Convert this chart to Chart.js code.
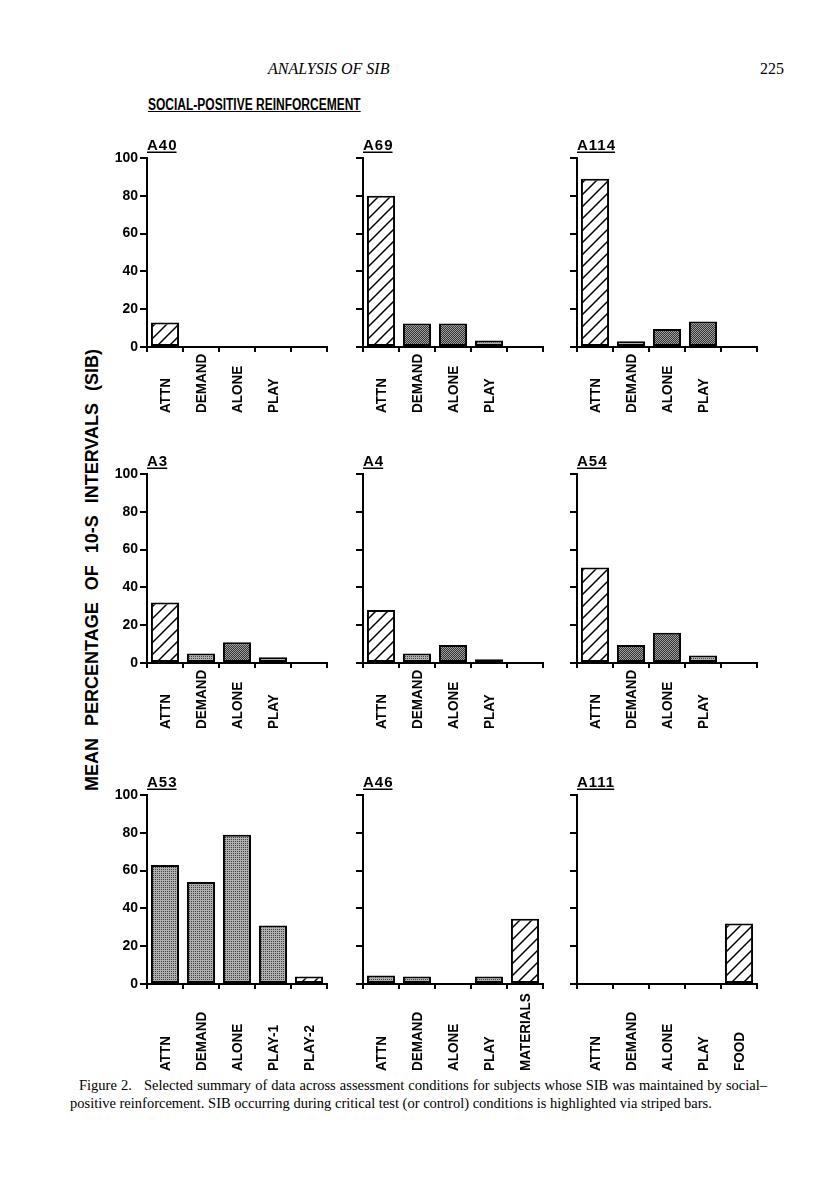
<!DOCTYPE html>
<html><head><meta charset="utf-8">
<script src="https://cdn.jsdelivr.net/npm/chart.js@4.4.1/dist/chart.umd.min.js"></script>
<style>
html,body{margin:0;padding:0;background:#fff;}
body{width:816px;height:1195px;position:relative;overflow:hidden;font-family:"Liberation Sans",Arial,sans-serif;color:#000;}
.abs{position:absolute;white-space:nowrap;}
#runhead{left:268px;top:61px;font:italic 16px/1 "Liberation Serif",serif;}
#pageno{left:760px;top:61px;font:16px/1 "Liberation Serif",serif;}
#heading{left:148px;top:97px;font:bold 16px/1 "Liberation Sans",Arial,sans-serif;text-decoration:underline;transform:scaleX(0.75);transform-origin:0 0;}
#ytitle{left:91.5px;top:570px;font:bold 18px/1 "Liberation Sans",Arial,sans-serif;letter-spacing:0px;word-spacing:7px;transform:translate(-50%,-50%) rotate(-90deg);}
#cap1{left:70px;top:1076px;width:697px;font:14.5px/1.3 "Liberation Serif",serif;text-align:justify;text-align-last:justify;text-indent:9px;white-space:normal;}
#cap2{left:70px;top:1094px;font:14.5px/1.3 "Liberation Serif",serif;}
canvas{position:absolute;}
</style>
</head><body>
<div class="abs" id="runhead">ANALYSIS OF SIB</div>
<div class="abs" id="pageno">225</div>
<div class="abs" id="heading">SOCIAL-POSITIVE REINFORCEMENT</div>
<div class="abs" id="ytitle">MEAN PERCENTAGE OF 10-S INTERVALS (SIB)</div>
<div class="abs" id="cap1">Figure 2.&nbsp;&nbsp; Selected summary of data across assessment conditions for subjects whose SIB was maintained by social–</div>
<div class="abs" id="cap2">positive reinforcement. SIB occurring during critical test (or control) conditions is highlighted via striped bars.</div>
<script>
// ---------- DATA ----------
const panelNames = ['A40','A69','A114','A3','A4','A54','A53','A46','A111'];
const catsStd  = ['ATTN','DEMAND','ALONE','PLAY',''];
const catsA53  = ['ATTN','DEMAND','ALONE','PLAY-1','PLAY-2'];
const catsA46  = ['ATTN','DEMAND','ALONE','PLAY','MATERIALS'];
const catsA111 = ['ATTN','DEMAND','ALONE','PLAY','FOOD'];
const valsA40  = [13, 0, 0, 0];
const valsA69  = [80, 12.5, 12.5, 3.5];
const valsA114 = [89, 3, 9.5, 13.5];
const valsA3   = [32, 5, 11, 3];
const valsA4   = [28, 5, 9.5, 2];
const valsA54  = [50.5, 9.5, 16, 4];
const valsA53  = [63, 54, 79, 31, 4];
const valsA46  = [4.5, 4, 0, 4, 34.5];
const valsA111 = [0, 0, 0, 0, 32];
// index of the critical test (or control) condition, drawn striped
const criticalIdx = [0, 0, 0, 0, 0, 0, 4, 4, 4];
const yTickValues = [0, 20, 40, 60, 80, 100];

const panelCats = [catsStd, catsStd, catsStd, catsStd, catsStd, catsStd, catsA53, catsA46, catsA111];
const panelVals = [valsA40, valsA69, valsA114, valsA3, valsA4, valsA54, valsA53, valsA46, valsA111];

// ---------- STYLE ----------
const darkBars = [[], [1,2], [2,3], [2], [2], [1,2], [], [], []];
const colX = [147, 363, 577];
const rowTop = [158, 474, 795];
const plotH = 189, plotW = 180, padTop = 30, yAxisW = 60, xAxisH = 100, padRight = 12;
const labelBottom = [66, 66, 87];

function makeHatch(){
  const c = document.createElement('canvas'); const s = 12; c.width = c.height = s;
  const g = c.getContext('2d');
  g.fillStyle = '#fff'; g.fillRect(0,0,s,s);
  g.strokeStyle = '#000'; g.lineWidth = 1.5; g.beginPath();
  g.moveTo(0,s); g.lineTo(s,0);
  g.moveTo(-2,2); g.lineTo(2,-2);
  g.moveTo(s-2,s+2); g.lineTo(s+2,s-2);
  g.stroke();
  return g.createPattern(c,'repeat');
}
function makeStipple(dark, light, nDark){
  const c = document.createElement('canvas'); c.width = c.height = 2;
  const g = c.getContext('2d');
  g.fillStyle = light; g.fillRect(0,0,2,2);
  g.fillStyle = dark; g.fillRect(0,0,1,1);
  if (nDark > 1) g.fillRect(1,1,1,1);
  return g.createPattern(c,'repeat');
}
const hatch = makeHatch();
const stippleLight = makeStipple('#404040', '#b0b0b0', 1);
const stippleDark = makeStipple('#333', '#a0a0a0', 2);

const panelPlugin = {
  id: 'panel',
  afterDraw(chart, args, opts){
    const {ctx, chartArea} = chart;
    const xs = chart.scales.x;
    ctx.save();
    ctx.fillStyle = '#000';
    ctx.font = 'bold 15px "Liberation Sans", Arial, sans-serif';
    ctx.letterSpacing = '1px';
    ctx.textAlign = 'left'; ctx.textBaseline = 'alphabetic';
    ctx.fillText(opts.title, chartArea.left, chartArea.top - 8);
    const w = ctx.measureText(opts.title).width;
    ctx.fillRect(chartArea.left, chartArea.top - 6.5, w - 1, 1.5);
    ctx.letterSpacing = '0px';
    ctx.font = 'bold 15px "Liberation Sans", Arial, sans-serif';
    chart.data.labels.forEach((lab, i) => {
      if (!lab) return;
      const x = xs.getPixelForTick(i);
      ctx.save();
      ctx.translate(x, chartArea.bottom + opts.labelBottom);
      ctx.rotate(-Math.PI/2);
      ctx.scale(0.9, 1);
      ctx.textAlign = 'left'; ctx.textBaseline = 'middle';
      ctx.fillText(lab, 0, 1);
      ctx.restore();
    });
    ctx.restore();
  }
};

panelNames.forEach((name, i) => {
  const col = i % 3, row = Math.floor(i / 3);
  const cv = document.createElement('canvas');
  const W = yAxisW + plotW + padRight, H = padTop + plotH + xAxisH;
  cv.width = W; cv.height = H;
  cv.style.left = (colX[col] - yAxisW) + 'px';
  cv.style.top = (rowTop[row] - padTop) + 'px';
  cv.style.width = W + 'px'; cv.style.height = H + 'px';
  document.body.appendChild(cv);
  const vals = panelVals[i];
  const fills = vals.map((v, k) => k === criticalIdx[i] ? hatch : (darkBars[i].includes(k) ? stippleDark : stippleLight));
  new Chart(cv, {
    type: 'bar',
    data: { labels: panelCats[i], datasets: [{ data: vals, backgroundColor: fills, borderColor: '#000', borderWidth: 2, borderSkipped: false, barPercentage: 0.78, categoryPercentage: 1 }] },
    options: {
      responsive: false, animation: false, devicePixelRatio: 1,
      layout: { padding: { left: 0, top: padTop, right: padRight, bottom: 0 } },
      plugins: { legend: { display: false }, tooltip: { enabled: false }, title: { display: false },
        panel: { title: name, labelBottom: labelBottom[row] } },
      scales: {
        x: { type: 'category', offset: true,
          grid: { display: true, offset: true, drawOnChartArea: false, drawTicks: true, tickLength: 5, color: '#000', lineWidth: 2 },
          border: { display: true, color: '#000', width: 2 },
          ticks: { display: false },
          afterFit(s){ s.height = xAxisH; } },
        y: { min: 0, max: 100,
          afterBuildTicks(s){ s.ticks = yTickValues.map(v => ({ value: v })); },
          ticks: { display: col === 0, color: '#000', padding: 2, font: { family: '"Liberation Sans", Arial, sans-serif', weight: 'bold', size: 14 } },
          grid: { display: true, drawOnChartArea: false, drawTicks: true, tickLength: 7, color: '#000', lineWidth: 2 },
          border: { display: true, color: '#000', width: 2 },
          afterFit(s){ s.width = yAxisW; } }
      }
    },
    plugins: [panelPlugin]
  });
});
</script>
</body></html>
